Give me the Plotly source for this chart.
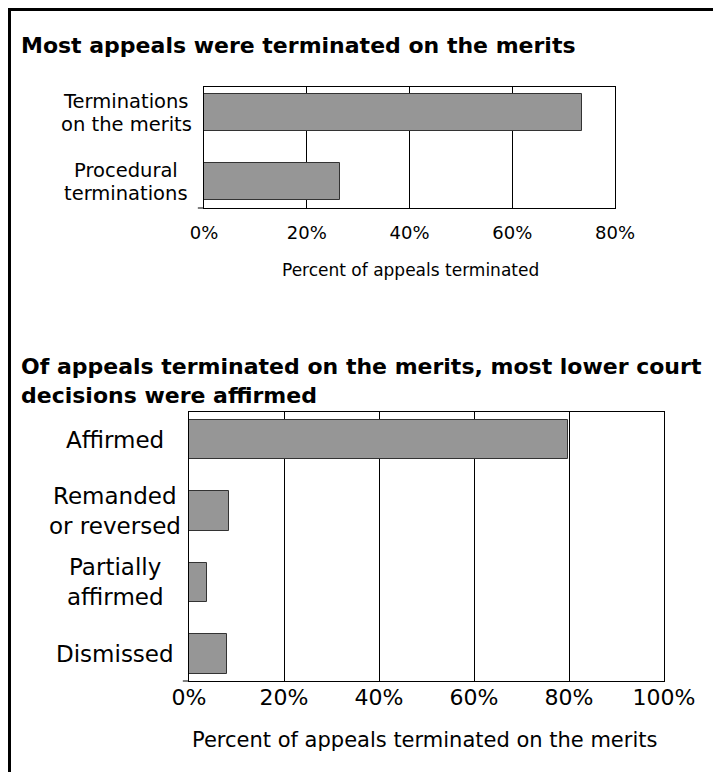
import plotly.graph_objects as go

# the page puts the figure 8px from the top-left corner, so the figure is 8px smaller
OFF = 8
W, H = 721 - OFF, 772 - OFF

# ---- data ----
cats1 = ["Terminations<br>on the merits", "Procedural<br>terminations"]
vals1 = [73.5, 26.5]
ticks1 = [0, 20, 40, 60, 80]

cats2 = ["Affirmed", "Remanded<br>or reversed", "Partially<br>affirmed", "Dismissed"]
vals2 = [79.7, 8.4, 3.8, 8.1]
ticks2 = [0, 20, 40, 60, 80, 100]

title1 = "Most appeals were terminated on the merits"
title2 = "Of appeals terminated on the merits, most lower court<br>decisions were affirmed"
xtitle1 = "Percent of appeals terminated"
xtitle2 = "Percent of appeals terminated on the merits"

FONT = "DejaVu Sans"
BAR = "#969696"
EDGE = "#333333"


def px_x(p):
    return (p - OFF) / W


def px_y(p):
    return (H - (p - OFF)) / H


fig = go.Figure()
fig.add_trace(go.Bar(y=list(range(len(cats1))), x=vals1, orientation="h", width=0.54,
                     marker=dict(color=BAR, line=dict(color=EDGE, width=1)),
                     xaxis="x", yaxis="y", showlegend=False, hoverinfo="skip"))
fig.add_trace(go.Bar(y=list(range(len(cats2))), x=vals2, orientation="h", width=0.55,
                     marker=dict(color=BAR, line=dict(color=EDGE, width=1)),
                     xaxis="x2", yaxis="y2", showlegend=False, hoverinfo="skip"))

axis_common = dict(showline=True, linecolor="black", linewidth=1, mirror=True,
                   zeroline=False, fixedrange=True, automargin=False)

fig.update_layout(
    width=W, height=H, margin=dict(l=0, r=0, t=0, b=0, autoexpand=False),
    paper_bgcolor="white", plot_bgcolor="white",
    font=dict(family=FONT, color="black"),
    bargap=0,
    xaxis=dict(domain=[px_x(204), px_x(615)], anchor="y", range=[0, 80],
               tickvals=ticks1, ticktext=[f"{t}%" for t in ticks1],
               tickfont=dict(size=18), ticks="", ticklabelstandoff=8,
               showgrid=True, gridcolor="black", gridwidth=1, **axis_common),
    yaxis=dict(domain=[px_y(208), px_y(87)], anchor="x", range=[1.384, -0.37],
               showticklabels=False, showgrid=False, ticks="", **axis_common),
    xaxis2=dict(domain=[px_x(189), px_x(664)], anchor="y2", range=[0, 100],
                tickvals=ticks2, ticktext=[f"{t}%" for t in ticks2],
                tickfont=dict(size=22), ticks="", ticklabelstandoff=-3,
                showgrid=True, gridcolor="black", gridwidth=1, **axis_common),
    yaxis2=dict(domain=[px_y(681), px_y(412)], anchor="x2", range=[3.378, -0.385],
                showticklabels=False, showgrid=False, ticks="", **axis_common),
)

ann = []
# titles
ann.append(dict(text=f"<b>{title1}</b>", xref="paper", yref="paper", x=px_x(19), y=px_y(45),
                xanchor="left", yanchor="middle", showarrow=False, font=dict(size=22)))
ann.append(dict(text=f"<b>{title2}</b>", xref="paper", yref="paper", x=px_x(19), y=px_y(381),
                xanchor="left", yanchor="middle", showarrow=False, align="left", font=dict(size=22)))
# axis titles
ann.append(dict(text=xtitle1, xref="paper", yref="paper", x=px_x(410), y=px_y(270),
                xanchor="center", yanchor="middle", showarrow=False, font=dict(size=17)))
ann.append(dict(text=xtitle2, xref="paper", yref="paper", x=px_x(424), y=px_y(740),
                xanchor="center", yanchor="middle", showarrow=False, font=dict(size=21)))


def label_lines(cats, yref, xc, size, spacing):
    out = []
    for i, c in enumerate(cats):
        lines = c.split("<br>")
        n = len(lines)
        for k, line in enumerate(lines):
            shift = ((n - 1) / 2 - k) * spacing
            out.append(dict(text=line, xref="paper", yref=yref, x=px_x(xc), y=i,
                            xanchor="center", yanchor="middle", showarrow=False,
                            yshift=shift, font=dict(size=size)))
    return out


ann += label_lines(cats1, "y", 126, 19.5, 23)
ann += label_lines(cats2, "y2", 115, 23, 30)
fig.update_layout(annotations=ann)

shapes = [
    # outer frame (bottom edge is cut off in the original)
    dict(type="line", xref="paper", yref="paper", x0=px_x(9.5), x1=px_x(9.5), y0=-0.02, y1=px_y(8),
         line=dict(color="black", width=3)),
    dict(type="line", xref="paper", yref="paper", x0=px_x(8), x1=px_x(716.5), y0=px_y(9.5), y1=px_y(9.5),
         line=dict(color="black", width=3)),
    dict(type="line", xref="paper", yref="paper", x0=px_x(715), x1=px_x(715), y0=-0.02, y1=px_y(8),
         line=dict(color="black", width=3)),
    # small outside tick at the bottom-left of each value axis
    dict(type="line", xref="x domain", yref="y domain", x0=-0.015, x1=0, y0=0, y1=0,
         line=dict(color="black", width=1)),
    dict(type="line", xref="x2 domain", yref="y2 domain", x0=-0.013, x1=0, y0=0, y1=0,
         line=dict(color="black", width=1)),
]
fig.update_layout(shapes=shapes)

fig.write_html("out.html")
